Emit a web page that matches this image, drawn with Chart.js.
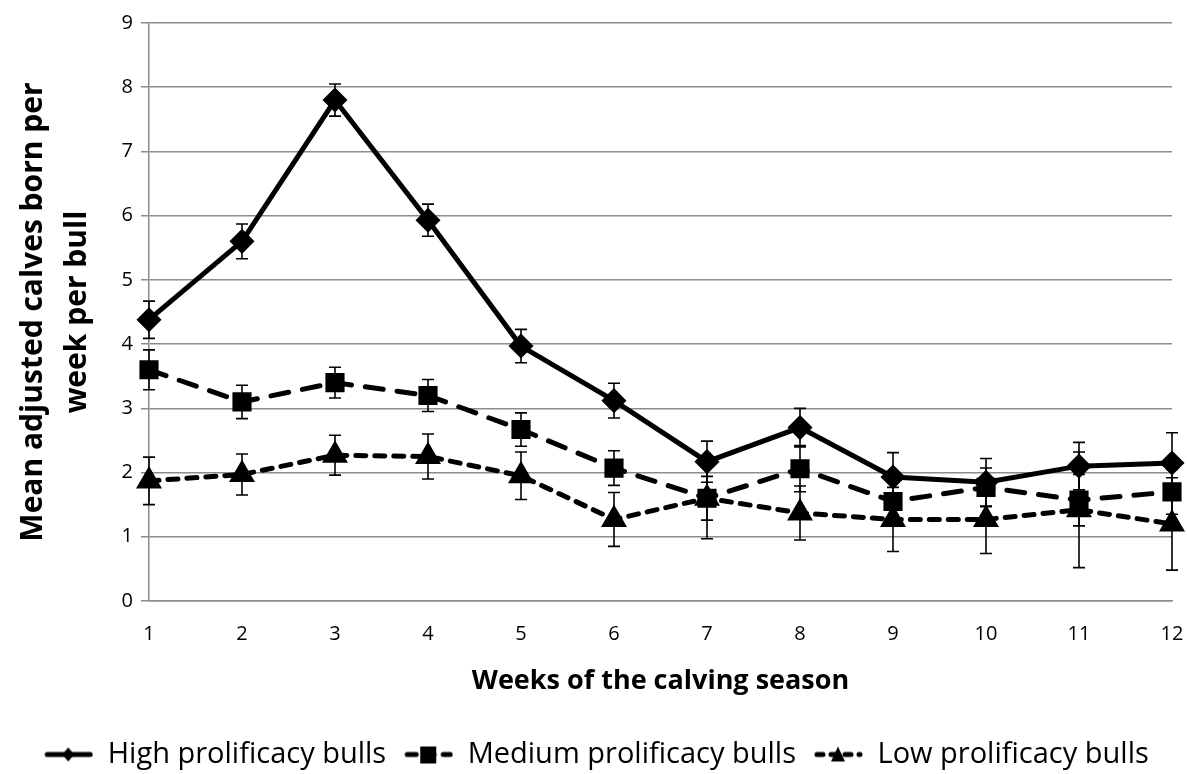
<!DOCTYPE html>
<html>
<head>
<meta charset="utf-8">
<script src="https://cdn.jsdelivr.net/npm/chart.js@4/dist/chart.umd.min.js"></script>
<style>
  body { margin: 0; background: #fff; }
  canvas { display: block; }
</style>
</head>
<body>
<canvas id="myChart" width="1187" height="774"></canvas>
<script>
var weeks = ['1','2','3','4','5','6','7','8','9','10','11','12'];
var high = [4.38, 5.6, 7.8, 5.93, 3.97, 3.12, 2.17, 2.7, 1.93, 1.85, 2.1, 2.15];
var highErr = [0.29, 0.27, 0.25, 0.25, 0.26, 0.27, 0.32, 0.3, 0.38, 0.37, 0.37, 0.47];
var medium = [3.6, 3.1, 3.4, 3.2, 2.67, 2.07, 1.6, 2.06, 1.55, 1.77, 1.57, 1.7];
var mediumErr = [0.31, 0.26, 0.24, 0.25, 0.26, 0.27, 0.34, 0.36, 0.3, 0.3, 0.4, 0.35];
var low = [1.87, 1.97, 2.27, 2.25, 1.95, 1.27, 1.6, 1.37, 1.27, 1.27, 1.42, 1.2];
var lowErr = [0.37, 0.32, 0.31, 0.35, 0.37, 0.42, 0.63, 0.42, 0.5, 0.53, 0.9, 0.72];

var FONT = '"Open Sans", sans-serif';
var GRID = '#8c8c8c';

// legend sample: line with marker in the middle (blank gap on the left)
function legendIcon(shape, dash) {
  var c = document.createElement('canvas');
  c.width = 62; c.height = 22;
  var g = c.getContext('2d');
  g.strokeStyle = '#000'; g.fillStyle = '#000';
  g.lineWidth = 5;
  g.lineCap = 'round';
  g.setLineDash(dash || []);
  g.beginPath(); g.moveTo(16, 11); g.lineTo(59, 11); g.stroke();
  g.setLineDash([]);
  g.beginPath();
  var m = 37;
  if (shape == 'diamond') {
    g.moveTo(m, 4); g.lineTo(m + 6, 11); g.lineTo(m, 18); g.lineTo(m - 6, 11);
  } else if (shape == 'square') {
    g.rect(m - 8, 3, 16, 17);
  } else {
    g.moveTo(m, 3); g.lineTo(m + 7, 18); g.lineTo(m - 7, 18);
  }
  g.closePath(); g.fill();
  return c;
}
var icons = [legendIcon('diamond'), legendIcon('square', [9, 9]), legendIcon('triangle', [6, 8])];

var errorBars = {
  id: 'errorBars',
  afterDatasetsDraw: function (chart) {
    var ctx = chart.ctx;
    var xs = chart.scales.x, ys = chart.scales.y;
    ctx.save();
    ctx.strokeStyle = '#000';
    ctx.lineWidth = 1.6;
    chart.data.datasets.forEach(function (ds) {
      ds.data.forEach(function (v, i) {
        var x = xs.getPixelForValue(i);
        var top = ys.getPixelForValue(v + ds.err[i]);
        var bot = ys.getPixelForValue(v - ds.err[i]);
        ctx.beginPath();
        ctx.moveTo(x, top); ctx.lineTo(x, bot);
        ctx.moveTo(x - 6, top); ctx.lineTo(x + 6, top);
        ctx.moveTo(x - 6, bot); ctx.lineTo(x + 6, bot);
        ctx.stroke();
      });
    });
    ctx.restore();
  }
};

function noPad(s) { s.paddingLeft = 0; s.paddingRight = 0; s.paddingTop = 0; s.paddingBottom = 0; }

var ctx = document.getElementById('myChart');
var myChart = new Chart(ctx, {
  type: 'line',
  data: {
    labels: weeks,
    datasets: [
      {
        label: 'High prolificacy bulls',
        data: high, err: highErr,
        borderColor: '#000', backgroundColor: '#000',
        borderWidth: 5, fill: false, tension: 0,
        pointStyle: 'rectRot', pointRadius: 9, pointHoverRadius: 9
      },
      {
        label: 'Medium prolificacy bulls',
        data: medium, err: mediumErr,
        borderColor: '#000', backgroundColor: '#000',
        borderWidth: 5, borderDash: [18, 14], borderCapStyle: 'round', fill: false, tension: 0,
        pointStyle: 'rect', pointRadius: 10, pointHoverRadius: 10
      },
      {
        label: 'Low prolificacy bulls',
        data: low, err: lowErr,
        borderColor: '#000', backgroundColor: '#000',
        borderWidth: 5, borderDash: [10, 9], borderCapStyle: 'round', fill: false, tension: 0,
        pointStyle: 'triangle', pointRadius: 10, pointHoverRadius: 10
      }
    ]
  },
  options: {
    responsive: false,
    animation: false,
    layout: { autoPadding: false, padding: { left: 8, right: 15, top: 23, bottom: -5 } },
    plugins: {
      tooltip: { enabled: false },
      legend: {
        position: 'bottom',
        labels: {
          font: { family: FONT, size: 29 },
          color: '#000',
          usePointStyle: true,
          pointStyleWidth: 62,
          padding: 5,
          generateLabels: function (chart) {
            return chart.data.datasets.map(function (ds, i) {
              return { text: ds.label, pointStyle: icons[i], datasetIndex: i, fontColor: '#000', lineWidth: 0, strokeStyle: 'transparent', fillStyle: 'transparent' };
            });
          }
        }
      }
    },
    scales: {
      x: {
        offset: false,
        grid: { display: false, drawTicks: true, tickLength: 8, tickColor: GRID },
        border: { color: GRID, width: 1.5 },
        ticks: { color: '#000', font: { family: FONT, size: 20 }, padding: 13, maxRotation: 0 },
        title: { display: true, text: 'Weeks of the calving season', color: '#000', font: { family: FONT, size: 27, weight: 'bold' }, padding: { top: 10, bottom: 37 } },
        afterFit: function (s) { s.height = 134; noPad(s); }
      },
      y: {
        min: 0, max: 9,
        grid: { color: GRID, lineWidth: 1.5, tickLength: 8, tickColor: GRID },
        border: { color: GRID, width: 1.5 },
        ticks: { stepSize: 1, color: '#000', font: { family: FONT, size: 20 }, padding: 8 },
        title: { display: true, text: ['Mean adjusted calves born per', 'week per bull'], color: '#000', font: { family: FONT, size: 30, weight: 'bold', lineHeight: 1.45 }, padding: { bottom: 4 } },
        afterFit: function (s) { s.width = 141; noPad(s); }
      }
    }
  },
  plugins: [errorBars]
});
</script>
</body>
</html>
